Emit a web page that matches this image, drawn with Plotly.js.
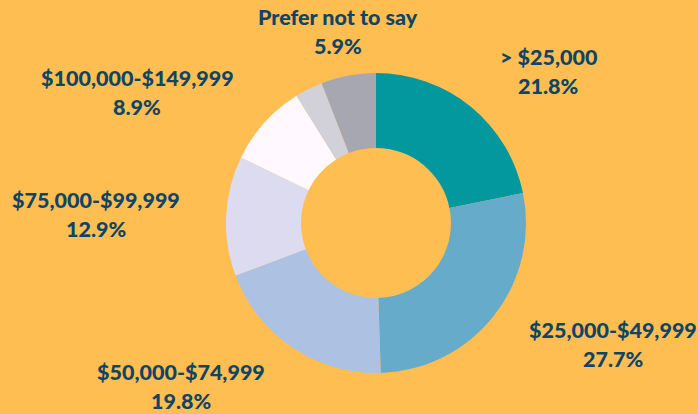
<!DOCTYPE html>
<html>
<head>
<meta charset="utf-8">
<script src="https://cdn.plot.ly/plotly-3.0.1.min.js"></script>
<style>
  html, body { margin: 0; padding: 0; background: #FEBE51; }
  #chart { width: 698px; height: 414px; }
</style>
</head>
<body>
<div id="chart"></div>
<script>
// DATA
const labels = ['> $25,000', '$25,000-$49,999', '$50,000-$74,999', '$75,000-$99,999',
  '$100,000-$149,999', '$150,000+', 'Prefer not to say']
const values = [21.8, 27.7, 19.8, 12.9, 8.9, 3.0, 5.9]
const colors = ['#03989E', '#67ABCA', '#ADC2E3', '#DDDBF0', '#FFF9FF', '#D2D1D9', '#A6A7B1']

// label placement (pixel centres of the two text lines), null = no label
const labelPos = [
  [548, 57],
  [613, 330],
  [181, 372],
  [96, 200],
  [137, 78],
  null,
  [338, 17],
]

const W = 698
const H = 414
const lineGap = 29
const textFont = { family: 'Lato, sans-serif', size: 21.5, color: '#0E4466', weight: 900 }

const annotations = []
labels.forEach((name, i) => {
  const pos = labelPos[i]
  if (!pos) return
  annotations.push({
    text: name, x: pos[0] / W, y: 1 - pos[1] / H, xref: 'paper', yref: 'paper',
    xanchor: 'center', yanchor: 'middle', showarrow: false, font: textFont,
  })
  annotations.push({
    text: `${values[i].toFixed(1)}%`, x: pos[0] / W, y: 1 - (pos[1] + lineGap) / H,
    xref: 'paper', yref: 'paper', xanchor: 'center', yanchor: 'middle',
    showarrow: false, font: textFont,
  })
})

const trace = {
  type: 'pie',
  labels,
  values,
  hole: 0.5,
  sort: false,
  direction: 'clockwise',
  rotation: 0,
  textinfo: 'none',
  marker: { colors, line: { width: 0 } },
  domain: { x: [226 / W, 526 / W], y: [1 - 373 / H, 1 - 73 / H] },
  showlegend: false,
}

const layout = {
  width: W,
  height: H,
  margin: { l: 0, r: 0, t: 0, b: 0 },
  paper_bgcolor: '#FEBE51',
  plot_bgcolor: '#FEBE51',
  annotations,
}

Plotly.newPlot('chart', [trace], layout, { displayModeBar: false, staticPlot: true })
</script>
</body>
</html>
